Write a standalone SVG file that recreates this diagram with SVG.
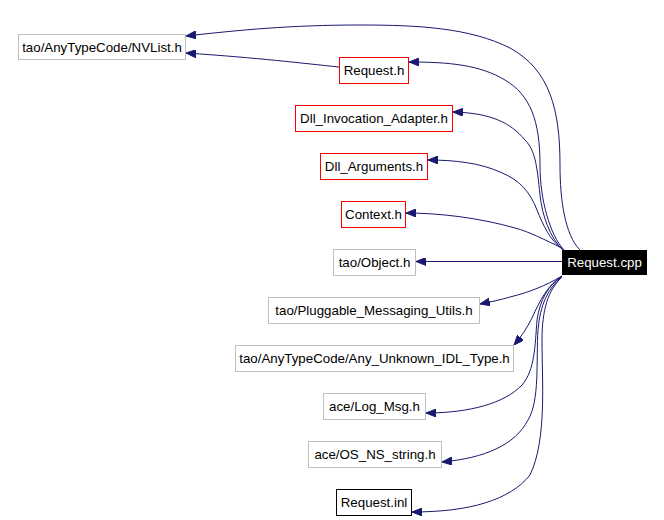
<svg xmlns="http://www.w3.org/2000/svg" width="664" height="520" viewBox="0 0 664 520">
<style>
.n rect{fill:#fff;stroke-width:1}
.g rect{stroke:#bfbfbf}
.r rect{stroke:#ff0000}
.b rect{stroke:#000}
text{font-family:"Liberation Sans",Arial,sans-serif;font-size:13.3px;text-anchor:middle;fill:#000}
#edges path{fill:none;stroke:#191970;stroke-width:1;marker-end:url(#ah)}
</style>
<defs>
<marker id="ah" viewBox="0 0 10 8" markerUnits="userSpaceOnUse" markerWidth="10" markerHeight="8" refX="10" refY="4" orient="auto">
<path d="M0,0 L10,4 L0,8 z" fill="#191970" stroke="#191970"/>
</marker>
</defs>
<rect width="664" height="520" fill="#fff"/>
<g id="edges">
<path d="M580,250 C565,235 560,200 560,165 C560,110 550,70 510,48 C470,28 420,25 360,25 C290,25 240,30 186,36"/>
<path d="M339,67 C300,63 260,58 186,53"/>
<path d="M564,250 C550,235 540,200 540,165 C540,120 530,95 505,80 C480,65 450,62 409,62"/>
<path d="M563,250 C550,238 542,215 540,195 C537,165 535,150 525,140 C510,122 490,113 453,112"/>
<path d="M562,249 C550,240 543,225 537,210 C530,192 520,180 500,172 C480,163 455,160 428,160"/>
<path d="M562,248 C545,240 530,232 515,228 C480,218 440,213 406,213"/>
<path d="M562,261.5 L416,261.5"/>
<path d="M562,276 C545,286 530,292 510,297 C500,300 490,302 480,304"/>
<path d="M562,276 C548,285 540,300 532,318 C527,328 521,337 514,345"/>
<path d="M562,277 C548,285 540,300 537,320 C535,345 535,370 522,385 C505,403 470,413 426,413"/>
<path d="M562,277 C548,288 540,305 538,330 C536,360 540,400 528,420 C515,445 485,458 442,462"/>
<path d="M562,277 C548,290 542,310 542,340 C542,380 547,440 530,475 C510,500 470,512 412,512"/>
</g>
<g id="n_nvlist" class="n g"><rect x="18.5" y="34.5" width="167" height="25"/><text x="102" y="52">tao/AnyTypeCode/NVList.h</text></g>
<g id="n_requesth" class="n r"><rect x="339.5" y="57.5" width="69" height="26"/><text x="374" y="75">Request.h</text></g>
<g id="n_dllinv" class="n r"><rect x="295.5" y="105.5" width="157" height="26"/><text x="374" y="123">Dll_Invocation_Adapter.h</text></g>
<g id="n_dllargs" class="n r"><rect x="320.5" y="153.5" width="107" height="26"/><text x="374" y="171">Dll_Arguments.h</text></g>
<g id="n_context" class="n r"><rect x="341.5" y="201.5" width="64" height="26"/><text x="373.5" y="219">Context.h</text></g>
<g id="n_object" class="n g"><rect x="333.5" y="249.5" width="82" height="26"/><text x="374.5" y="267">tao/Object.h</text></g>
<g id="n_requestcpp"><rect x="562" y="250" width="85" height="25" fill="#000"/><text x="604.5" y="267" style="fill:#fff">Request.cpp</text></g>
<g id="n_pluggable" class="n g"><rect x="268.5" y="297.5" width="211" height="26"/><text x="374" y="315">tao/Pluggable_Messaging_Utils.h</text></g>
<g id="n_anyunknown" class="n g"><rect x="235.5" y="345.5" width="278" height="26"/><text x="374.5" y="363">tao/AnyTypeCode/Any_Unknown_IDL_Type.h</text></g>
<g id="n_logmsg" class="n g"><rect x="323.5" y="393.5" width="102" height="26"/><text x="374.5" y="411">ace/Log_Msg.h</text></g>
<g id="n_osns" class="n g"><rect x="308.5" y="441.5" width="133" height="26"/><text x="375" y="459">ace/OS_NS_string.h</text></g>
<g id="n_inl" class="n b"><rect x="336.5" y="489.5" width="75" height="26"/><text x="374" y="507">Request.inl</text></g>
</svg>
